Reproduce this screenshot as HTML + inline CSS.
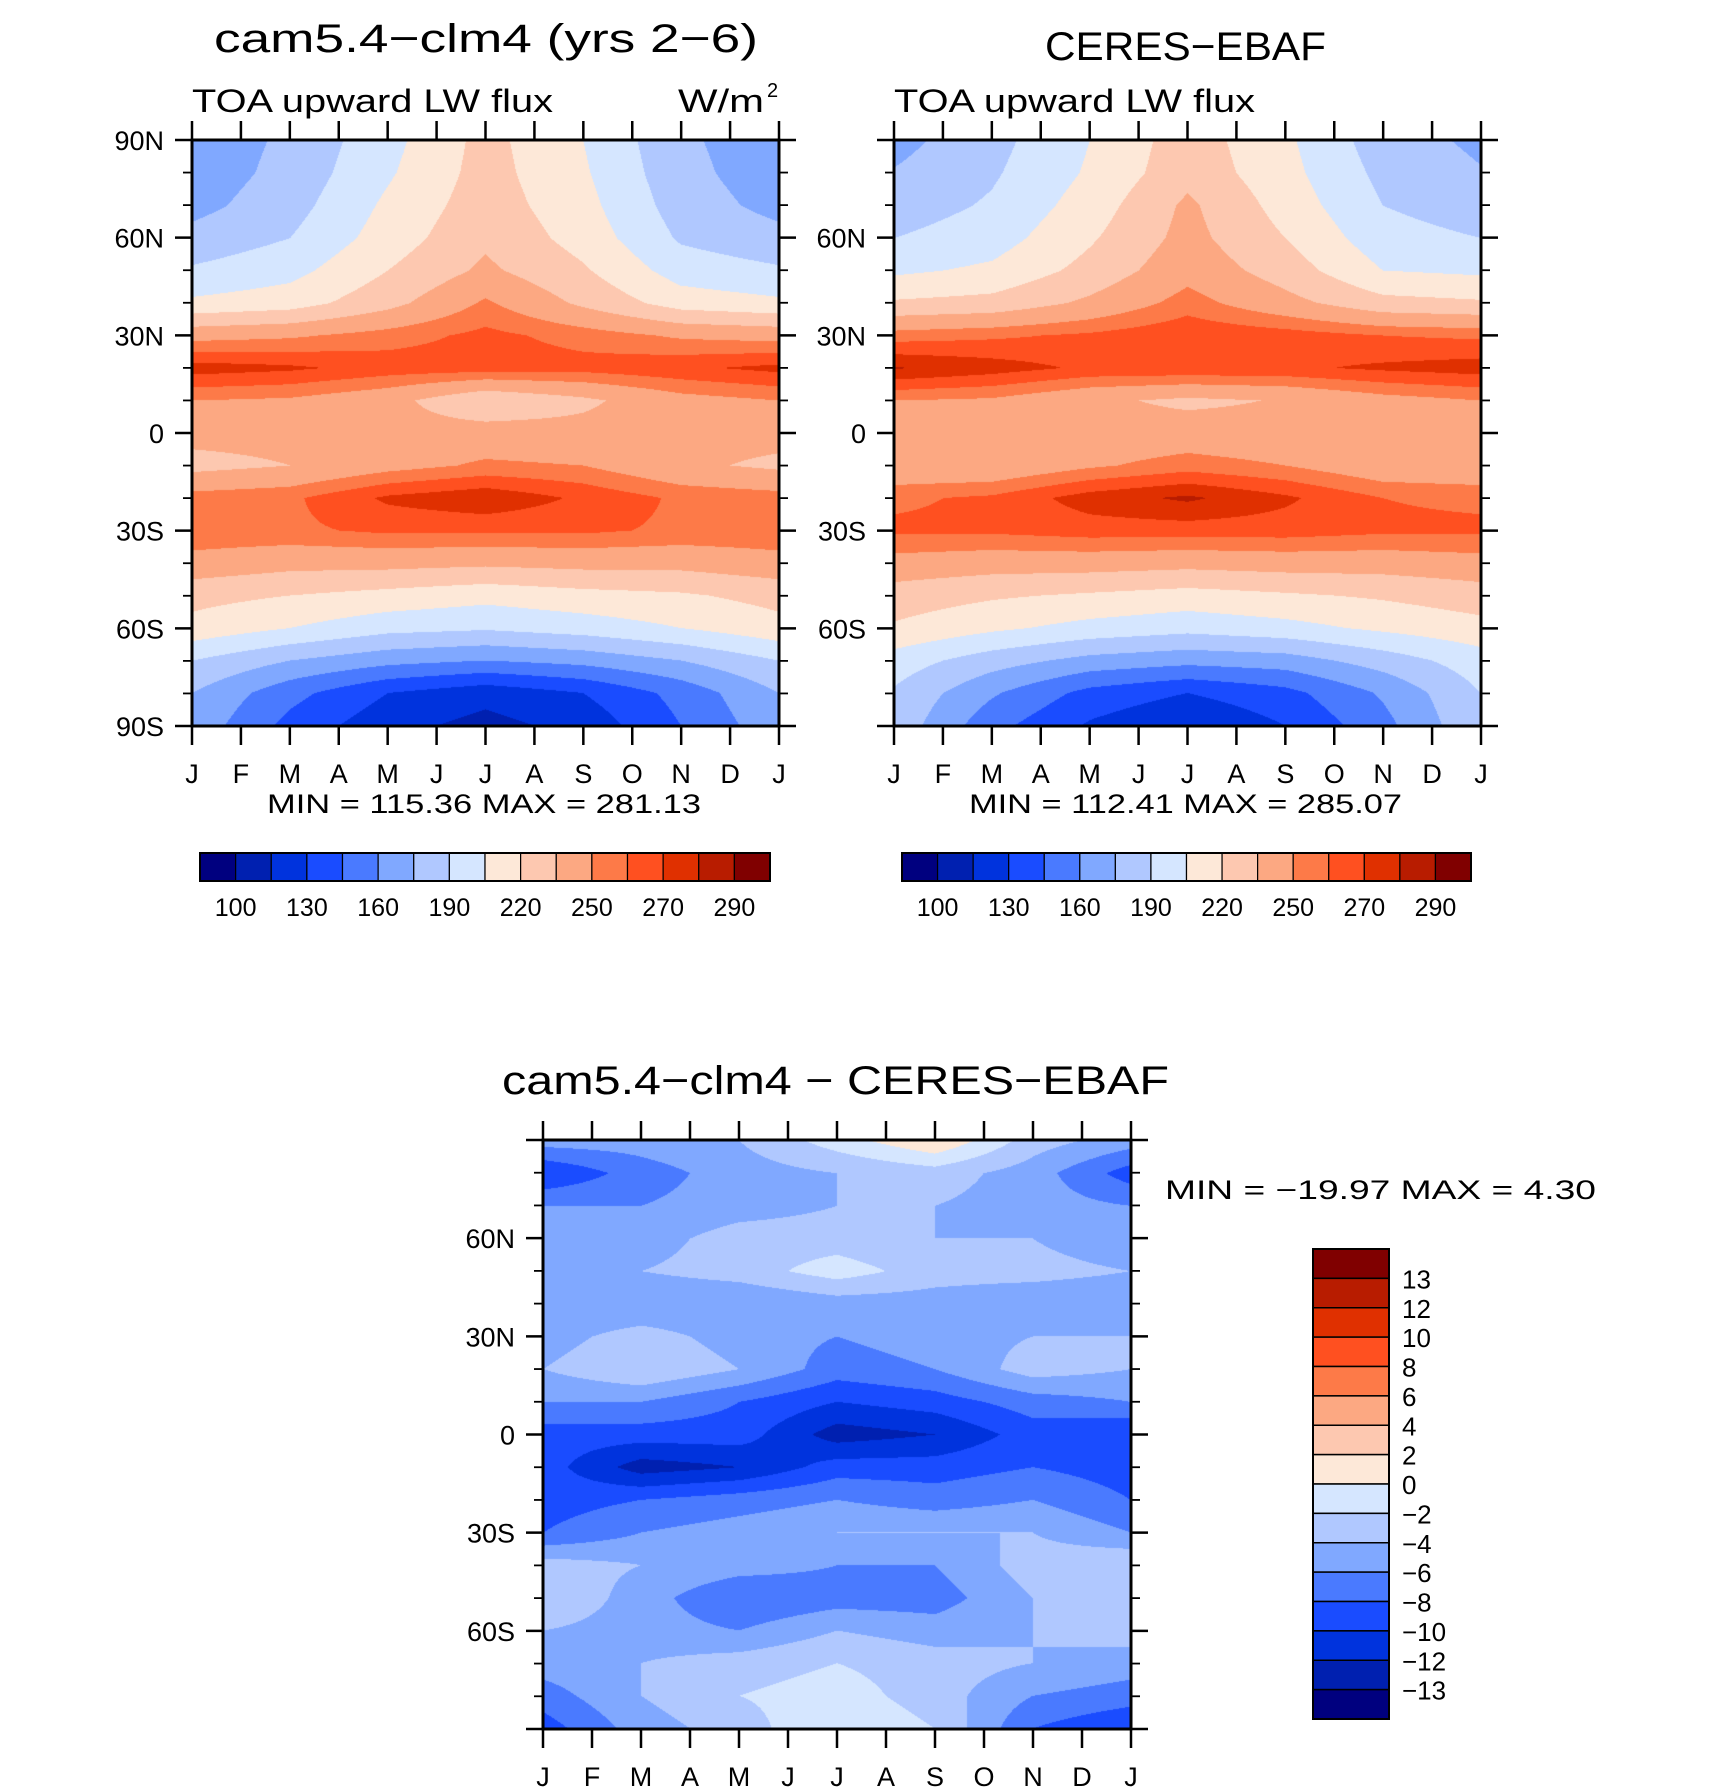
<!DOCTYPE html>
<html><head><meta charset="utf-8"><style>
html,body{margin:0;padding:0;background:#fff;}
#wrap{position:relative;width:1710px;height:1791px;overflow:hidden;}
canvas{position:absolute;}
svg{position:absolute;left:0;top:0;}
text{font-family:"Liberation Sans",sans-serif;fill:#000;}
</style></head><body>
<div id="wrap">
<canvas id="c1" width="587" height="586" style="left:192px;top:140px"></canvas>
<canvas id="c2" width="587" height="586" style="left:894px;top:140px"></canvas>
<canvas id="c3" width="588" height="589" style="left:543px;top:1140px"></canvas>
<svg id="svg" width="1710" height="1791"></svg>
</div>
<script>
// ---- data ----
const monthLabels = ["J","F","M","A","M","J","J","A","S","O","N","D","J"];
const latRowsLabels = ["90N","80N","70N","60N","50N","40N","30N","20N","10N","0","10S","20S","30S","40S","50S","60S","70S","80S","90S"];
const gridMonths = [0,2,4,6,8,10,12];
const absLevels = [100,115,130,145,160,175,190,205,220,235,250,260,270,280,290];
const absLevelLabels = ["100","130","160","190","220","250","270","290"];
const diffLevels = [-13,-12,-10,-8,-6,-4,-2,0,2,4,6,8,10,12,13];
const diffLevelLabels = ["−13","−12","−10","−8","−6","−4","−2","0","2","4","6","8","10","12","13"];
const palette = ["#00007f","#0020b0","#0033dd","#1a4cff","#4a7aff","#80a8ff","#b0c8ff","#d5e6ff","#fde8d8","#fdc8b0","#fca882","#fd7a48","#ff5020","#e03000","#b81c00","#800000"];
const modelField = [
[165,178,200,225,205,178,165],
[166,180,203,226,207,180,166],
[170,184,208,228,210,183,170],
[180,190,212,232,214,188,180],
[192,200,220,238,222,198,192],
[208,213,230,252,232,213,208],
[245,248,255,263,256,248,245],
[275,272,266,265,264,268,273],
[250,248,240,222,232,245,250],
[240,240,240,242,240,240,240],
[230,235,245,252,250,238,232],
[255,258,272,278,268,258,255],
[258,258,262,262,262,258,258],
[245,240,240,238,240,240,245],
[225,220,215,210,215,218,225],
[215,205,195,192,197,205,215],
[190,175,165,160,165,175,190],
[175,150,130,120,130,150,175],
[170,140,120,110,120,145,170]];
const obsField = [
[170,185,205,228,208,182,172],
[176,188,207,230,210,186,176],
[182,192,212,238,214,190,182],
[190,198,218,240,220,196,190],
[202,208,225,245,228,205,202],
[222,225,238,255,240,225,222],
[255,258,262,268,265,260,258],
[281,275,268,268,268,272,275],
[250,248,238,232,236,245,250],
[240,240,240,242,240,240,240],
[238,238,248,255,250,240,238],
[258,262,275,282,272,260,258],
[262,262,265,265,265,262,262],
[245,242,242,240,242,242,245],
[228,222,218,214,218,222,228],
[218,208,200,195,200,208,215],
[198,182,170,165,168,182,198],
[188,162,140,130,140,162,190],
[185,150,128,115,130,155,188]];
const diffField = [
[-5,-5,-4,-1,2,-3,-5],
[-10,-7,-5,-4,-3,-5,-9],
[-6,-6,-5,-4,-4,-5,-6],
[-6,-5,-3,-3,-4,-4,-6],
[-4,-4,-3,-1,-3,-3,-4],
[-6,-6,-6,-5,-5,-6,-6],
[-5,-3,-5,-6,-5,-4,-4],
[-4,-2,-4,-7,-6,-3,-4],
[-6,-6,-8,-10,-9,-7,-6],
[-9,-9,-9,-13,-12,-9,-10],
[-9,-13,-12,-9,-9,-8,-9],
[-9,-8,-7,-6,-7,-6,-8],
[-8,-6,-5,-4,-4,-4,-6],
[-3,-4,-5,-6,-6,-3,-2],
[-2,-5,-8,-7,-7,-4,-2],
[-4,-5,-6,-4,-5,-4,-3],
[-5,-4,-3,-2,-3,-4,-5],
[-7,-4,-2,-1,-3,-6,-7],
[-9,-5,-3,0,-2,-8,-10]];

function hexRGB(h){return [parseInt(h.slice(1,3),16),parseInt(h.slice(3,5),16),parseInt(h.slice(5,7),16)];}
const palRGB = palette.map(hexRGB);
function levelIndex(v,levels){let i=0;while(i<levels.length&&v>=levels[i])i++;return i;}
function sample(field,mx,ly){
  const gx = mx/2, c0=Math.min(Math.floor(gx),5), fx=gx-c0;
  const r0=Math.min(Math.floor(ly),17), fy=ly-r0;
  const a=field[r0][c0],b=field[r0][c0+1],c=field[r0+1][c0],d=field[r0+1][c0+1];
  return (a*(1-fx)+b*fx)*(1-fy)+(c*(1-fx)+d*fx)*fy;
}
function drawField(id,field,levels){
  const cv=document.getElementById(id),ctx=cv.getContext('2d');
  const W=cv.width,H=cv.height,img=ctx.createImageData(W,H);
  for(let y=0;y<H;y++){const ly=y/(H-1)*18;
    for(let x=0;x<W;x++){const mx=x/(W-1)*12;
      const col=palRGB[levelIndex(sample(field,mx,ly),levels)];
      const k=(y*W+x)*4;img.data[k]=col[0];img.data[k+1]=col[1];img.data[k+2]=col[2];img.data[k+3]=255;}}
  ctx.putImageData(img,0,0);
}
drawField('c1',modelField,absLevels);
drawField('c2',obsField,absLevels);
drawField('c3',diffField,diffLevels);

const svg=document.getElementById('svg');
const NS="http://www.w3.org/2000/svg";
function el(tag,attrs,parent){const e=document.createElementNS(NS,tag);for(const k in attrs)e.setAttribute(k,attrs[k]);(parent||svg).appendChild(e);return e;}
function txt(s,x,y,size,anchor,len,name){const t=el('text',{x:x,y:y,'font-size':size,'text-anchor':anchor||'start'});
  if(len){t.setAttribute('textLength',len);t.setAttribute('lengthAdjust','spacingAndGlyphs');}
  t.textContent=s;
  
  
  return t;}

function axes(x0,y0,w,h,latLabels,name){
  const g=el('g',{});
  
  
  el('rect',{x:x0,y:y0,width:w,height:h,fill:'none',stroke:'#000','stroke-width':3},g);
  const xm=m=>x0+m/12*w, yl=r=>y0+r/18*h;
  for(let m=0;m<=12;m++){
    el('line',{x1:xm(m),x2:xm(m),y1:y0,y2:y0-19,stroke:'#000','stroke-width':2.5},g);
    el('line',{x1:xm(m),x2:xm(m),y1:y0+h,y2:y0+h+19,stroke:'#000','stroke-width':2.5},g);
    const t=txt(monthLabels[m],xm(m),y0+h+57,27,'middle',null,'month-label');g.appendChild(t);
  }
  for(let r=0;r<=18;r++){
    const major=r%3===0, L=major?17:9;
    el('line',{x1:x0,x2:x0-L,y1:yl(r),y2:yl(r),stroke:'#000','stroke-width':major?2.5:1.8},g);
    el('line',{x1:x0+w,x2:x0+w+L,y1:yl(r),y2:yl(r),stroke:'#000','stroke-width':major?2.5:1.8},g);
    if(major && latLabels.indexOf(latRowsLabels[r])>=0){
      const t=txt(latRowsLabels[r],x0-28,yl(r)+10,27,'end',null,'lat-label');g.appendChild(t);
    }
  }
}
axes(192,140,587,586,["90N","60N","30N","0","30S","60S","90S"],'model-axes');
axes(894,140,587,586,["60N","30N","0","30S","60S"],'obs-axes');
axes(543,1140,588,589,["60N","30N","0","30S","60S"],'diff-axes');

txt("cam5.4−clm4 (yrs 2−6)",214,52,40,'start',544,'model-title');
txt("CERES−EBAF",1045,60,40,'start',281,'obs-title');
txt("TOA upward LW flux",192,112,32,'start',361,'model-subtitle');
txt("W/m",678,112,32,'start',86,'units-label');
txt("2",767,97,20,'start',null,'units-exponent');
txt("TOA upward LW flux",894,112,32,'start',361,'obs-subtitle');
txt("MIN = 115.36 MAX = 281.13",267,813,27,'start',434,'model-minmax');
txt("MIN = 112.41 MAX = 285.07",969,813,27,'start',433,'obs-minmax');
txt("cam5.4−clm4 − CERES−EBAF",502,1094,40,'start',667,'diff-title');
txt("MIN = −19.97 MAX =    4.30",1165,1199,27,'start',431,'diff-minmax');

function hbar(x0,y0,w,h,name){
  const g=el('g',{});
  
  
  const bw=w/16;
  for(let i=0;i<16;i++){const r=el('rect',{x:x0+i*bw,y:y0,width:bw,height:h,fill:palette[i],stroke:'#000','stroke-width':1.2},g);
    
    }
  el('rect',{x:x0,y:y0,width:w,height:h,fill:'none',stroke:'#000','stroke-width':2},g);
  for(let j=0;j<absLevelLabels.length;j++){const b=1+2*j;
    const t=txt(absLevelLabels[j],x0+b*bw,y0+h+35,25,'middle',null,'colorbar-label');g.appendChild(t);}
}
hbar(200,853,570,28,'model-colorbar');
hbar(902,853,569,28,'obs-colorbar');

(function(){
  const x0=1313,y0=1249,w=76,h=470,bh=h/16;
  const g=el('g',{});
  
  
  for(let i=0;i<16;i++){const r=el('rect',{x:x0,y:y0+i*bh,width:w,height:bh,fill:palette[15-i],stroke:'#000','stroke-width':1.5},g);
    
    }
  el('rect',{x:x0,y:y0,width:w,height:h,fill:'none',stroke:'#000','stroke-width':2},g);
  for(let j=0;j<15;j++){const lab=diffLevelLabels[14-j];
    const t=txt(lab,1402,y0+(j+1)*bh+10,26,'start',null,'colorbar-label');g.appendChild(t);}
})();
</script>
</body></html>
